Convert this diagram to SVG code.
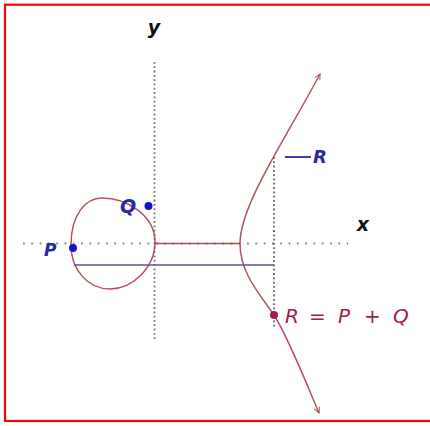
<svg xmlns="http://www.w3.org/2000/svg" width="430" height="426" viewBox="0 0 430 426">
<style>
.curve{fill:none;stroke:#b5525a;stroke-width:1.5}
.axisv{fill:none;stroke:#777;stroke-width:1.8;stroke-dasharray:1.8 2.5}
.axish{fill:none;stroke:#888;stroke-width:1.8;stroke-dasharray:1.8 6.5}
.lbl{font-family:"DejaVu Sans","Liberation Sans",sans-serif;font-style:italic}
</style>
<defs>
<marker id="arr" viewBox="0 0 10 10" refX="9" refY="5" markerWidth="7" markerHeight="7" markerUnits="userSpaceOnUse" orient="auto">
<path d="M1,1 L9,5 L1,9" fill="none" stroke="#b5525a" stroke-width="1.5"/>
</marker>
</defs>
<rect x="0" y="0" width="430" height="426" fill="#fff"/>
<rect x="5" y="4.7" width="430" height="416.3" fill="none" stroke="#ff0000" stroke-width="2.2"/>
<g id="axes">
<line class="axisv" x1="154.5" y1="62" x2="154.5" y2="340"/>
<line class="axish" x1="23" y1="243.5" x2="348" y2="243.5"/>
<text class="lbl" x="154" y="34" font-size="19" font-weight="bold" text-anchor="middle" fill="#111">y</text>
<text class="lbl" x="363" y="231" font-size="19" font-weight="bold" text-anchor="middle" fill="#111">x</text>
</g>
<g id="curve">
<path class="curve" d="M71,245 C71,214 86,198 102,198 C126,198 155,215 155,242 C155,268 132,289 110,289 C88,289 71,270 71,245 Z"/>
<path class="curve" marker-end="url(#arr)" d="M240,243.5 C240,205 285,140 320,74"/>
<path class="curve" marker-end="url(#arr)" d="M240,243.5 C240,272 258,292 274,315 C288,337 305,380 319,413"/>
</g>
<g id="connectors">
<line x1="155" y1="243.5" x2="240" y2="243.5" stroke="#a84a52" stroke-width="1.5"/>
<line x1="74" y1="265" x2="274" y2="265" stroke="#55589a" stroke-width="1.6"/>
<line x1="274" y1="157" x2="274" y2="328" stroke="#6b5a7a" stroke-width="1.8" stroke-dasharray="1.8 2.5"/>
</g>
<g id="P">
<circle cx="73" cy="248" r="4" fill="#1515c8"/>
<text class="lbl" x="44" y="256" font-size="17" font-weight="bold" fill="#1f2aa8">P</text>
</g>
<g id="Q">
<circle cx="148.5" cy="206" r="4" fill="#1515c8"/>
<text class="lbl" x="120" y="213" font-size="19" font-weight="bold" fill="#1f2aa8">Q</text>
</g>
<g id="R">
<line x1="285" y1="157" x2="311" y2="157" stroke="#2a2a9a" stroke-width="1.8"/>
<text class="lbl" x="313" y="163" font-size="18" font-weight="bold" fill="#2a2a9a">R</text>
</g>
<g id="Rsum">
<circle cx="274" cy="315" r="4" fill="#9e1c4f"/>
<text class="lbl" y="323" font-size="20" fill="#9e1c4f"><tspan x="285">R</tspan><tspan x="309">=</tspan><tspan x="338">P</tspan><tspan x="364">+</tspan><tspan x="393">Q</tspan></text>
</g>
</svg>
